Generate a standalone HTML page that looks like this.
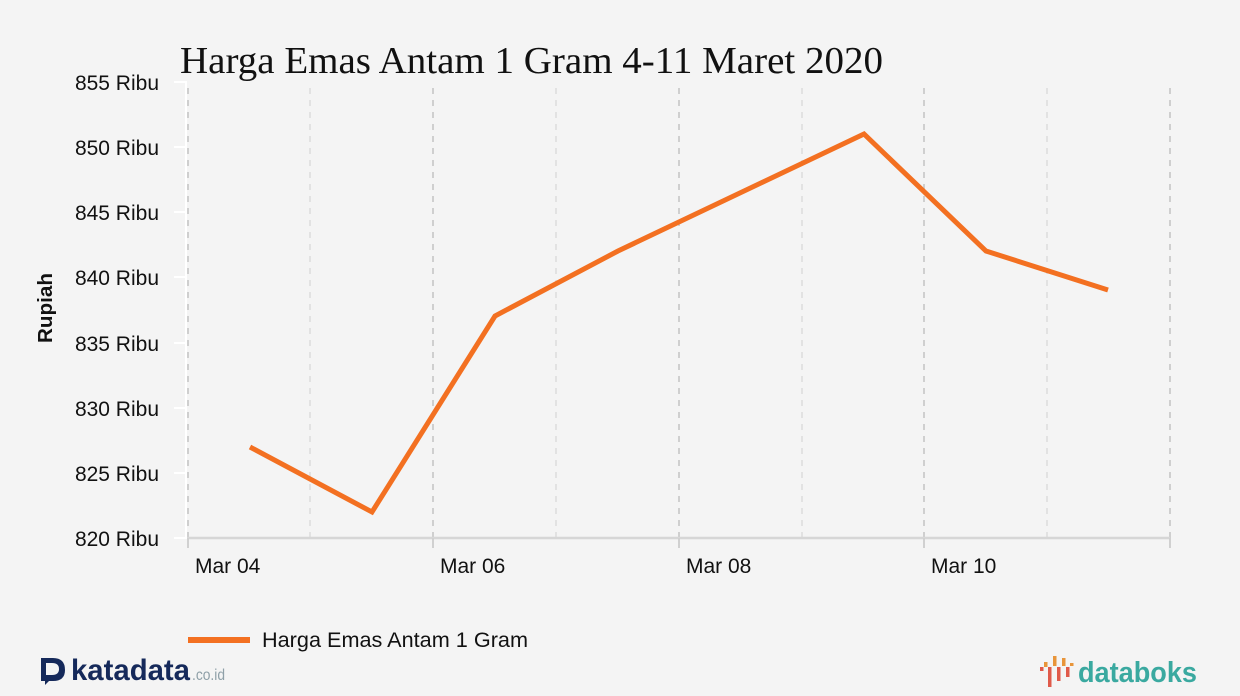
<!DOCTYPE html>
<html><head><meta charset="utf-8"><style>
html,body{margin:0;padding:0;background:#f4f4f4;}
svg{display:block;}
</style></head><body>
<svg width="1240" height="696" viewBox="0 0 1240 696" xmlns="http://www.w3.org/2000/svg">
<rect width="1240" height="696" fill="#f4f4f4"/>
<text x="180" y="73" font-family="Liberation Serif, serif" font-size="38" fill="#111" textLength="703" lengthAdjust="spacingAndGlyphs">Harga Emas Antam 1 Gram 4-11 Maret 2020</text>
<g stroke-width="2" stroke-dasharray="6,6" fill="none">
<line x1="188" y1="88" x2="188" y2="538" stroke="#cfcfcf"/>
<line x1="310" y1="88" x2="310" y2="538" stroke="#e2e2e2"/>
<line x1="433" y1="88" x2="433" y2="538" stroke="#cfcfcf"/>
<line x1="556" y1="88" x2="556" y2="538" stroke="#e2e2e2"/>
<line x1="679" y1="88" x2="679" y2="538" stroke="#cfcfcf"/>
<line x1="802" y1="88" x2="802" y2="538" stroke="#e2e2e2"/>
<line x1="924" y1="88" x2="924" y2="538" stroke="#cfcfcf"/>
<line x1="1047" y1="88" x2="1047" y2="538" stroke="#e2e2e2"/>
<line x1="1170" y1="88" x2="1170" y2="538" stroke="#cfcfcf"/>
</g>
<line x1="187" y1="538" x2="1170" y2="538" stroke="#d6d6d6" stroke-width="2.5"/>
<g stroke="#d0d0d0" stroke-width="2">
<line x1="188" y1="538" x2="188" y2="548"/>
<line x1="433" y1="538" x2="433" y2="548"/>
<line x1="679" y1="538" x2="679" y2="548"/>
<line x1="924" y1="538" x2="924" y2="548"/>
<line x1="1170" y1="538" x2="1170" y2="548"/>
</g>
<g stroke="#ffffff" stroke-width="2">
<line x1="186" y1="82" x2="186" y2="538"/>
<line x1="174" y1="82" x2="187" y2="82"/>
<line x1="174" y1="147" x2="187" y2="147"/>
<line x1="174" y1="212" x2="187" y2="212"/>
<line x1="174" y1="277" x2="187" y2="277"/>
<line x1="174" y1="343" x2="187" y2="343"/>
<line x1="174" y1="408" x2="187" y2="408"/>
<line x1="174" y1="473" x2="187" y2="473"/>
<line x1="174" y1="538" x2="187" y2="538"/>
</g>
<g font-family="Liberation Sans, sans-serif" font-size="21" fill="#111" text-anchor="end">
<text x="159" y="90">855 Ribu</text>
<text x="159" y="155">850 Ribu</text>
<text x="159" y="220">845 Ribu</text>
<text x="159" y="285">840 Ribu</text>
<text x="159" y="351">835 Ribu</text>
<text x="159" y="416">830 Ribu</text>
<text x="159" y="481">825 Ribu</text>
<text x="159" y="546">820 Ribu</text>
</g>
<g font-family="Liberation Sans, sans-serif" font-size="21" fill="#111">
<text x="195" y="573">Mar 04</text>
<text x="440" y="573">Mar 06</text>
<text x="686" y="573">Mar 08</text>
<text x="931" y="573">Mar 10</text>
</g>
<text transform="translate(52,343) rotate(-90)" font-family="Liberation Sans, sans-serif" font-size="20" font-weight="bold" fill="#111" textLength="70" lengthAdjust="spacingAndGlyphs">Rupiah</text>
<polyline points="250,447 372,512 495,316 618,251 864,134 986,251 1108,290" fill="none" stroke="#f37021" stroke-width="5" stroke-linejoin="miter"/>
<line x1="188" y1="640" x2="250" y2="640" stroke="#f37021" stroke-width="6"/>
<text x="262" y="647" font-family="Liberation Sans, sans-serif" font-size="21" fill="#111" textLength="266" lengthAdjust="spacingAndGlyphs">Harga Emas Antam 1 Gram</text>
<!-- katadata logo -->
<g fill="#15295a">
<path d="M41,658 H53 Q65,658 65,670 Q65,681 53,681 H49 L45,685 L45,681 H41 Z"/>
<rect x="46" y="663" width="6" height="12" fill="#f4f4f4"/>
<path d="M52,663 Q59,663 59,669 Q59,675 52,675 Z" fill="#f4f4f4"/>
</g>
<text x="71" y="680" font-family="Liberation Sans, sans-serif" font-size="30" font-weight="bold" fill="#15295a" textLength="119" lengthAdjust="spacingAndGlyphs">katadata</text>
<text x="192" y="680" font-family="Liberation Sans, sans-serif" font-size="16" fill="#8fa0a8" textLength="33" lengthAdjust="spacingAndGlyphs">.co.id</text>
<!-- databoks logo -->
<g>
<rect x="1040" y="667" width="3.5" height="4" fill="#e05a4a"/>
<rect x="1044" y="662" width="3.5" height="5" fill="#e8953a"/>
<rect x="1048" y="667" width="3.5" height="20" fill="#e05a4a"/>
<rect x="1053" y="656" width="3.5" height="10" fill="#e8953a"/>
<rect x="1057" y="667" width="3.5" height="14" fill="#e05a4a"/>
<rect x="1062" y="658" width="3.5" height="8" fill="#e8953a"/>
<rect x="1066" y="667" width="3.5" height="10" fill="#e05a4a"/>
<rect x="1070" y="663" width="3.5" height="3" fill="#e8953a"/>
</g>
<text x="1078" y="682" font-family="Liberation Sans, sans-serif" font-size="29" font-weight="bold" fill="#3aa9a0" textLength="119" lengthAdjust="spacingAndGlyphs">databoks</text>
</svg>
</body></html>
